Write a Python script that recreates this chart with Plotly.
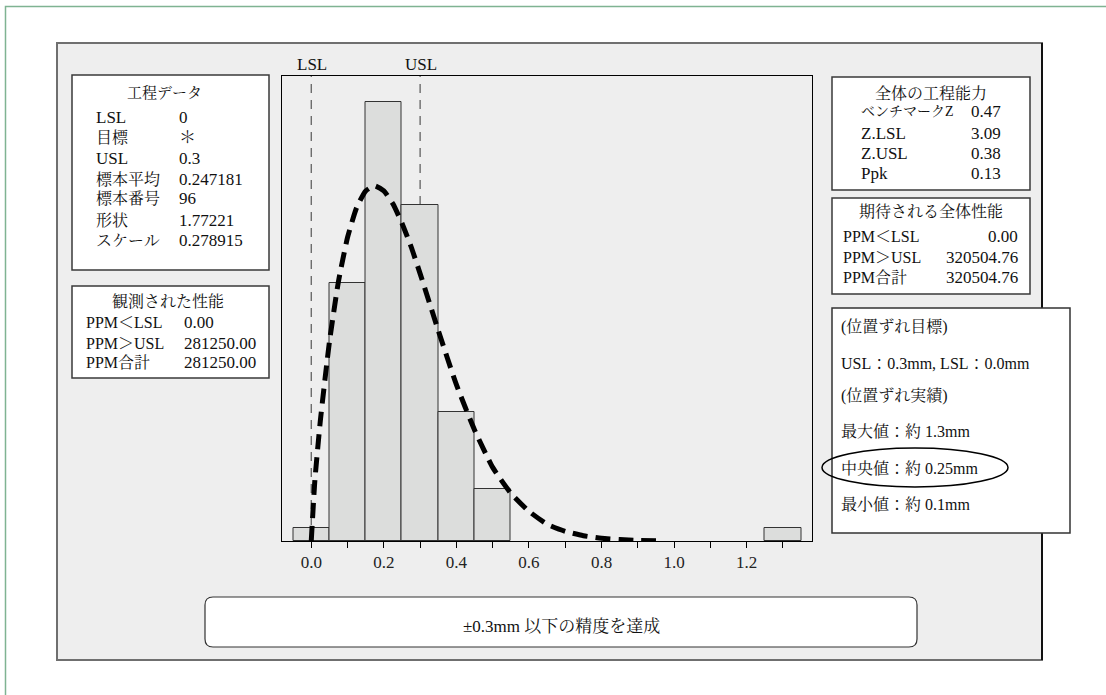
import plotly.graph_objects as go

W, H = 1106, 695

# ---------------- data ----------------
bin_centers = [0.0, 0.1, 0.2, 0.3, 0.4, 0.5, 1.3]
counts = [1, 20, 34, 26, 10, 4, 1]

curve_x = [0.0, 0.01, 0.025, 0.05, 0.075, 0.1, 0.125, 0.15, 0.175, 0.2, 0.225, 0.25,
           0.275, 0.3, 0.35, 0.4, 0.45, 0.5, 0.55, 0.6, 0.65, 0.7, 0.75, 0.8,
           0.85, 0.9, 0.95]
curve_y = [0.0, 4.7, 9.3, 15.4, 20.1, 23.5, 25.8, 27.1, 27.5, 27.1, 26.1, 24.6,
           22.8, 20.7, 16.3, 12.1, 8.6, 5.7, 3.7, 2.3, 1.3, 0.75, 0.41, 0.21,
           0.11, 0.05, 0.02]

lsl, usl = 0.0, 0.3
tick_vals = [0.0, 0.1, 0.2, 0.3, 0.4, 0.5, 0.6, 0.7, 0.8, 0.9, 1.0, 1.1, 1.2, 1.3]
tick_text = ["0.0", "", "0.2", "", "0.4", "", "0.6", "", "0.8", "", "1.0", "", "1.2", ""]

proc_title = "工程データ"
proc_labels = ["LSL", "目標", "USL", "標本平均", "標本番号", "形状", "スケール"]
proc_values = ["0", "＊", "0.3", "0.247181", "96", "1.77221", "0.278915"]

obs_title = "観測された性能"
obs_labels = ["PPM＜LSL", "PPM＞USL", "PPM合計"]
obs_values = ["0.00", "281250.00", "281250.00"]

cap_title = "全体の工程能力"
cap_labels = ["ベンチマークZ", "Z.LSL", "Z.USL", "Ppk"]
cap_values = ["0.47", "3.09", "0.38", "0.13"]

exp_title = "期待される全体性能"
exp_labels = ["PPM＜LSL", "PPM＞USL", "PPM合計"]
exp_values = ["0.00", "320504.76", "320504.76"]

note_lines = ["(位置ずれ目標)", "USL：0.3mm, LSL：0.0mm", "(位置ずれ実績)",
              "最大値：約 1.3mm", "中央値：約 0.25mm", "最小値：約 0.1mm"]
bottom_text = "±0.3mm 以下の精度を達成"

FONT = "Liberation Serif, 'Noto Serif CJK JP', 'Noto Sans CJK JP', serif"

# ---------------- helpers (pixel -> paper) ----------------
def px(x):
    return x / W

def py(y):
    return 1 - y / H

shapes = []
annotations = []

def rect(x0, y0, x1, y1, fill="white", color="#3a3a3a", width=1.5, layer="below"):
    shapes.append(dict(type="rect", xref="paper", yref="paper",
                       x0=px(x0), x1=px(x1), y0=py(y1), y1=py(y0),
                       fillcolor=fill, line=dict(color=color, width=width), layer=layer))

def line(x0, y0, x1, y1, color="black", width=1.5, layer="below"):
    shapes.append(dict(type="line", xref="paper", yref="paper",
                       x0=px(x0), x1=px(x1), y0=py(y0), y1=py(y1),
                       line=dict(color=color, width=width), layer=layer))

def text(x, y, s, size=17, anchor="left", color="#111"):
    annotations.append(dict(xref="paper", yref="paper", x=px(x), y=py(y), text=s,
                            showarrow=False, xanchor=anchor, yanchor="middle",
                            font=dict(family=FONT, size=size, color=color)))

# outer green frame
rect(5.5, 6.5, 1115, 705, fill="white", color="#7fb392", width=1.5)
# grey panel
rect(57, 43, 1042, 660, fill="#eeeeee", color="#6f6f6f", width=2)
line(1042, 43, 1042, 660, color="#111", width=2)

# --- left boxes
rect(72, 75, 269, 270)
text(164, 93, proc_title, 15, "center")
row_y = [117, 137, 158, 179, 199, 220, 241]
for yy, lab, val in zip(row_y, proc_labels, proc_values):
    text(94, yy, lab, 16 if any(ord(c) > 255 for c in lab) else 17)
    text(177, yy, val, 17)

rect(72, 286, 269, 378)
text(168, 301, obs_title, 16, "center")
for yy, lab, val in zip([323, 343, 362], obs_labels, obs_values):
    text(84, yy, lab, 16)
    text(182, yy, val, 17)

# --- right boxes
rect(832, 77, 1030, 190)
text(931, 93, cap_title, 16, "center")
for yy, lab, val in zip([112, 133, 153, 174], cap_labels, cap_values):
    text(859, yy, lab, 14 if any(ord(c) > 255 for c in lab) else 17)
    text(969, yy, val, 17)

rect(832, 198, 1030, 294)
text(931, 212, exp_title, 16, "center")
for yy, lab, val in zip([237, 257, 277], exp_labels, exp_values):
    text(841, yy, lab, 16)
    text(1020, yy, val, 17, "right")

rect(832, 308, 1070, 533, color="#333")
for yy, s in zip([327, 363, 396, 432, 468, 504], note_lines):
    text(839, yy, s, 16)
shapes.append(dict(type="circle", xref="paper", yref="paper",
                   x0=px(822), x1=px(1008), y0=py(487), y1=py(448),
                   line=dict(color="black", width=1.5), layer="above"))

# --- bottom rounded box
bx0, by0, bx1, by1, r = 205, 597, 917, 647, 8
path = (f"M {px(bx0 + r)},{py(by0)} L {px(bx1 - r)},{py(by0)} "
        f"Q {px(bx1)},{py(by0)} {px(bx1)},{py(by0 + r)} "
        f"L {px(bx1)},{py(by1 - r)} Q {px(bx1)},{py(by1)} {px(bx1 - r)},{py(by1)} "
        f"L {px(bx0 + r)},{py(by1)} Q {px(bx0)},{py(by1)} {px(bx0)},{py(by1 - r)} "
        f"L {px(bx0)},{py(by0 + r)} Q {px(bx0)},{py(by0)} {px(bx0 + r)},{py(by0)} Z")
shapes.append(dict(type="path", xref="paper", yref="paper", path=path,
                   fillcolor="white", line=dict(color="#333", width=1.2), layer="below"))
text(561, 626, bottom_text, 17, "center")

# --- spec lines (data coords, below bars)
for v in (lsl, usl):
    shapes.append(dict(type="line", xref="x", yref="y", x0=v, x1=v, y0=0, y1=36,
                       line=dict(color="#555", width=1.2, dash="9px,7px"), layer="below"))
text(312, 65, "LSL", 17, "center")
text(421, 65, "USL", 17, "center")

# ---------------- traces ----------------
fig = go.Figure()
fig.add_trace(go.Bar(x=bin_centers, y=counts, width=0.1,
                     marker=dict(color="#dcdddc", line=dict(color="#333", width=1)),
                     showlegend=False, hoverinfo="skip"))
fig.add_trace(go.Scatter(x=curve_x, y=curve_y, mode="lines",
                         line=dict(color="black", width=5, dash="15px,8px", shape="spline", smoothing=0.5),
                         showlegend=False, hoverinfo="skip"))

fig.update_layout(
    width=W, height=H, margin=dict(l=0, r=0, t=0, b=0),
    paper_bgcolor="white", plot_bgcolor="white",
    shapes=shapes, annotations=annotations,
    bargap=0,
    xaxis=dict(domain=[px(281.5), px(812)], range=[-0.082, 1.38],
               tickvals=tick_vals, ticktext=tick_text, ticks="outside", ticklen=6,
               tickcolor="black", showline=True, linecolor="black", linewidth=1,
               mirror=True, showgrid=False, zeroline=False,
               tickfont=dict(family=FONT, size=17, color="#222")),
    yaxis=dict(domain=[py(541), py(76)], range=[0, 36], showticklabels=False,
               ticks="", showline=True, linecolor="black", linewidth=1, mirror=True,
               showgrid=False, zeroline=False),
)

fig.write_html("out.html")
